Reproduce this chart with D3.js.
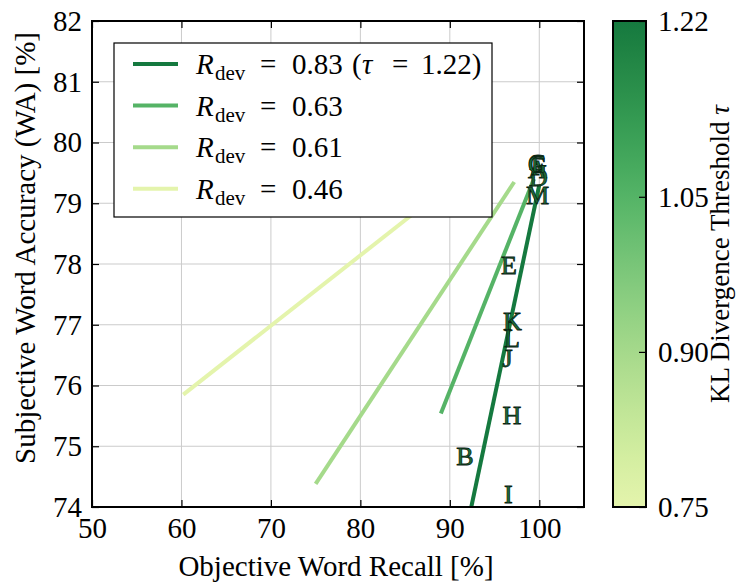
<!DOCTYPE html>
<html lang="en">
<head>
    <meta charset="UTF-8">
    <title>Word recall vs word accuracy</title>
    <script src="https://d3js.org/d3.v7.min.js"></script>
    <style>
        body { margin: 0; background: #fff; }
        svg { display: block; }
        svg text { font-family: "Liberation Serif", "DejaVu Serif", serif; }
    </style>
</head>
<body>
    <svg width="747" height="586"></svg>
    <script>
        // data
        const rdev = [0.83, 0.63, 0.61, 0.46];
        const tau = [1.22, 1.05, 0.90, 0.75];
        // fitted line end points [x1, y1, x2, y2] (recall %, WA %)
        const fitLines = [
            [92.4, 74.0, 100.0, 79.3],
            [89.0, 75.54, 99.4, 79.4],
            [75.0, 74.38, 97.2, 79.35],
            [60.2, 75.85, 90.0, 79.3]
        ];
        const systems = ["A", "B", "C", "D", "E", "F", "G", "H", "I", "J", "K", "L", "M"];
        const recall = [99.8, 91.7, 99.7, 99.9, 96.6, 99.85, 99.8, 96.95, 96.55, 96.45, 97.0, 96.95, 99.8];
        const accuracy = [79.55, 74.83, 79.65, 79.42, 77.98, 79.6, 79.63, 75.51, 74.2, 76.45, 77.05, 76.78, 79.12];
        const xTicks = [50, 60, 70, 80, 90, 100];
        const yTicks = [74, 75, 76, 77, 78, 79, 80, 81, 82];
        const cbTicks = [0.75, 0.90, 1.05, 1.22];

        const svg = d3.select("svg");
        const pLeft = 92, pRight = 584, pTop = 21, pBottom = 507;
        const fontSize = 29;

        const x = d3.scaleLinear().domain([50, 105]).range([pLeft, pRight]);
        const y = d3.scaleLinear().domain([74, 82]).range([pBottom, pTop]);
        const tauToT = d3.scaleLinear().domain([0.75, 1.22]).range([0.2, 0.8]);
        const color = v => d3.interpolateYlGn(tauToT(v));

        // grid
        const grid = svg.append("g").attr("stroke", "#cbcbcb").attr("stroke-width", 1);
        grid.selectAll(".gx").data(xTicks.slice(1)).join("line")
            .attr("x1", d => x(d)).attr("x2", d => x(d))
            .attr("y1", pTop).attr("y2", pBottom);
        grid.selectAll(".gy").data(yTicks.slice(1, -1)).join("line")
            .attr("y1", d => y(d)).attr("y2", d => y(d))
            .attr("x1", pLeft).attr("x2", pRight);

        // fitted lines
        svg.append("g").selectAll("line").data(fitLines).join("line")
            .attr("x1", d => x(d[0])).attr("y1", d => y(d[1]))
            .attr("x2", d => x(d[2])).attr("y2", d => y(d[3]))
            .attr("stroke", (d, i) => color(tau[i]))
            .attr("stroke-width", 4);

        // system letters
        svg.append("g").selectAll("text").data(systems).join("text")
            .attr("x", (d, i) => x(recall[i]))
            .attr("y", (d, i) => y(accuracy[i]))
            .attr("text-anchor", "middle")
            .attr("dominant-baseline", "central")
            .attr("font-size", 26)
            .attr("fill", "#1c6e39")
            .attr("stroke", "#0a2412")
            .attr("stroke-width", 0.8)
            .text(d => d);

        // axes with inward ticks on all sides
        const axes = svg.append("g");
        axes.append("g").attr("transform", `translate(0,${pBottom})`)
            .call(d3.axisBottom(x).tickValues(xTicks).tickSizeInner(-7).tickSizeOuter(0).tickPadding(10));
        axes.append("g").attr("transform", `translate(0,${pTop})`)
            .call(d3.axisTop(x).tickValues(xTicks).tickSizeInner(-7).tickSizeOuter(0).tickFormat(""));
        axes.append("g").attr("transform", `translate(${pLeft},0)`)
            .call(d3.axisLeft(y).tickValues(yTicks).tickSizeInner(-7).tickSizeOuter(0).tickPadding(10));
        axes.append("g").attr("transform", `translate(${pRight},0)`)
            .call(d3.axisRight(y).tickValues(yTicks).tickSizeInner(-7).tickSizeOuter(0).tickFormat(""));
        axes.selectAll(".domain").remove();
        axes.selectAll(".tick line").attr("stroke", "#000").attr("stroke-width", 1.2);
        axes.selectAll("text").attr("font-size", fontSize).attr("fill", "#000");

        svg.append("rect")
            .attr("x", pLeft).attr("y", pTop)
            .attr("width", pRight - pLeft).attr("height", pBottom - pTop)
            .attr("fill", "none").attr("stroke", "#000").attr("stroke-width", 2);

        // axis titles
        svg.append("text")
            .attr("x", (pLeft + pRight) / 2 - 2).attr("y", 576)
            .attr("text-anchor", "middle").attr("font-size", fontSize)
            .text("Objective Word Recall [%]");
        svg.append("text")
            .attr("transform", `translate(35,${(pTop + pBottom) / 2 - 16}) rotate(-90)`)
            .attr("text-anchor", "middle").attr("font-size", fontSize)
            .text("Subjective Word Accuracy (WA) [%]");

        // legend
        const lg = svg.append("g");
        lg.append("rect").attr("x", 114).attr("y", 43).attr("width", 378).attr("height", 174)
            .attr("fill", "#fff").attr("stroke", "#000").attr("stroke-width", 1.2);
        const items = lg.selectAll(".item").data(rdev).join("g")
            .attr("transform", (d, i) => `translate(0,${64 + i * 41.6})`);
        items.append("line").attr("x1", 133).attr("x2", 178)
            .attr("stroke", (d, i) => color(tau[i])).attr("stroke-width", 4);
        const lt = items.append("text").attr("y", 10).attr("font-size", 29);
        lt.append("tspan").attr("x", 196).attr("font-style", "italic").text("R");
        lt.append("tspan").attr("x", 215).attr("font-size", 21).attr("dy", 6).text("dev");
        lt.append("tspan").attr("x", 260).attr("dy", -6).text("=");
        lt.append("tspan").attr("x", 292).text(d => d.toFixed(2));
        const first = lt.filter((d, i) => i === 0);
        first.append("tspan").attr("x", 352).text("(");
        first.append("tspan").attr("x", 362).attr("font-style", "italic").text("τ");
        first.append("tspan").attr("x", 392).text("=");
        first.append("tspan").attr("x", 421).text(`${tau[0].toFixed(2)})`);

        // colour bar
        const cbX = 613, cbW = 33;
        const cbY = d3.scaleLinear().domain([0.75, 1.22]).range([pBottom, pTop]);
        const grad = svg.append("defs").append("linearGradient")
            .attr("id", "cb").attr("x1", 0).attr("y1", 1).attr("x2", 0).attr("y2", 0);
        grad.selectAll("stop").data(d3.range(0, 1.0001, 0.05)).join("stop")
            .attr("offset", d => d)
            .attr("stop-color", d => color(0.75 + d * 0.47));
        svg.append("rect").attr("x", cbX).attr("y", pTop).attr("width", cbW).attr("height", pBottom - pTop)
            .attr("fill", "url(#cb)").attr("stroke", "#000").attr("stroke-width", 2);
        const cbAxis = svg.append("g").attr("transform", `translate(${cbX + cbW},0)`)
            .call(d3.axisRight(cbY).tickValues(cbTicks).tickFormat(d3.format(".2f"))
                .tickSizeInner(-7).tickSizeOuter(0).tickPadding(12));
        cbAxis.select(".domain").remove();
        cbAxis.selectAll(".tick line").attr("stroke", "#000").attr("stroke-width", 1.2);
        cbAxis.selectAll("text").attr("font-size", fontSize).attr("fill", "#000");

        const cbLabel = svg.append("text")
            .attr("transform", `translate(729,${(pTop + pBottom) / 2 - 10}) rotate(-90)`)
            .attr("text-anchor", "middle").attr("font-size", 27);
        cbLabel.append("tspan").text("KL Divergence Threshold ");
        cbLabel.append("tspan").attr("font-style", "italic").text("τ");
    </script>
</body>
</html>
